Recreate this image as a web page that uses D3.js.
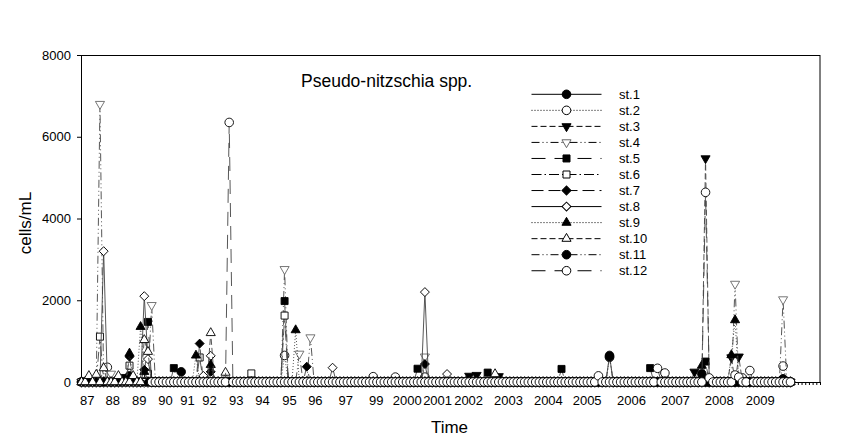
<!DOCTYPE html>
<html><head><meta charset="utf-8">
<script src="https://cdn.jsdelivr.net/npm/d3@7"></script>
<style>body{margin:0;background:#fff}svg{display:block;font-family:"Liberation Sans",Arial,sans-serif}</style>
</head><body><svg id="c" width="852" height="441"></svg>
<script>
// ---------- data ----------
const nSamples = 193;              // sampling occasions along the time axis
const stationNames = ["st.1","st.2","st.3","st.4","st.5","st.6","st.7","st.8","st.9","st.10","st.11","st.12"];
const yTicks = [0, 2000, 4000, 6000, 8000];
const xTickLabels = ["87","88","89","90","91","92","93","94","95","96","97","99","2000","2001","2002","2003","2004","2005","2006","2007","2008","2009"];
const xTickPos    = [1.4, 8.3, 15.5, 22.6, 28.6, 34.5, 41.8, 48.9, 56.2, 63.2, 71.4, 79.7, 88.1, 96.3, 104.7, 115.5, 126.3, 136.8, 148.8, 160.7, 172.6, 183.7];
// first sampling occasion of each station
const startIdx = [0,0,0,0,0,0,0,0,0,0,19,19];
// readings above zero: [sample index, cells/mL]; every other sample reads 0 on the chart
const st1  = [[13,150],[27,250],[143,650]];
const st2  = [[7,360],[55,650],[79,130],[85,120],[93,120],[143,600],[158,220],[179,100],[190,390]];
const st3  = [[12,120],[105,150],[107,170],[113,140],[166,250],[169,5470],[176,600],[178,620]];
const st4  = [[5,6800],[8,200],[19,1880],[55,2760],[59,690],[62,1090],[93,620],[177,2400],[190,2020]];
const st5  = [[18,1470],[25,340],[55,1980],[91,325],[110,230],[130,320],[154,340],[169,500]];
const st6  = [[5,1110],[13,400],[18,200],[32,600],[46,210],[55,1625]];
const st7  = [[13,620],[17,300],[32,940],[35,250],[61,375],[93,440]];
const st8  = [[6,3200],[17,2100],[18,560],[33,150],[35,640],[68,350],[93,2200],[99,195]];
const st9  = [[13,700],[16,1350],[17,250],[31,650],[35,420],[58,1270],[168,400],[176,660],[177,1515]];
const st10 = [[2,150],[4,180],[6,340],[10,150],[14,150],[17,1030],[18,740],[35,1200],[39,230],[112,195]];
const st11 = [[143,620],[168,200],[190,80]];
const st12 = [[40,6350],[140,150],[156,335],[169,4640],[170,100],[177,170],[178,120],[181,280]];
const readings = [st1,st2,st3,st4,st5,st6,st7,st8,st9,st10,st11,st12];

// ---------- styles ----------
const dashes = [null,"1,2","6,3","8,3,1,3,1,3","14,9","10,3,1.5,3","12,5",null,"1,2","6,3","8,3,1,3,1,3","14,9"];
const shapes = ["circle","circle","tridown","tridown","square","square","diamond","diamond","triup","triup","circle","circle"];
const filled = [true,false,true,false,true,false,true,false,true,false,true,false];
const markStroke = ["#000","#000","#000","#666","#000","#000","#000","#000","#000","#000","#000","#000"];

const svg = d3.select("#c");
const x = d3.scaleLinear().domain([0, 200]).range([81.5, 820]);
const y = d3.scaleLinear().domain([0, 8000]).range([382, 55]);

function symbolPath(kind){
  if (kind==="circle") return d3.symbol(d3.symbolCircle, 58)();
  if (kind==="square") return d3.symbol(d3.symbolSquare, 49)();
  if (kind==="diamond") return d3.symbol(d3.symbolSquare, 40)();
  return d3.symbol(d3.symbolTriangle, 36)();
}
function symbolRot(kind){
  if (kind==="diamond") return 45;
  if (kind==="tridown") return 180;
  return 0;
}

// build series
const series = readings.map((r, s) => {
  const m = new Map(r);
  const pts = [];
  for (let i = startIdx[s]; i < nSamples; i++) pts.push({i, v: m.has(i) ? m.get(i) : 0});
  return pts;
});

// frame (under the data)
svg.append("rect").attr("x",81.5).attr("y",55.5).attr("width",738.5).attr("height",327)
  .attr("fill","none").attr("stroke","#000").attr("stroke-width",1);

// axes
const xMinor = d3.axisBottom(x).tickValues(d3.range(0, 201)).tickSize(3).tickFormat("");
svg.append("g").attr("transform","translate(0,382)").call(xMinor)
  .call(g=>g.select(".domain").remove())
  .selectAll("line").attr("stroke","#000");
const xLab = d3.axisBottom(x).tickValues(xTickPos).tickSize(0).tickPadding(13.5)
  .tickFormat((d,i)=>xTickLabels[i]);
svg.append("g").attr("transform","translate(0,382)").call(xLab)
  .call(g=>g.select(".domain").remove())
  .selectAll("text").attr("font-size",13).attr("font-family","Liberation Sans, Arial, sans-serif").attr("fill","#000");
const yAx = d3.axisLeft(y).tickValues(yTicks).tickSize(4).tickPadding(6).tickFormat(d3.format("d"));
svg.append("g").attr("transform","translate(81,0)").call(yAx)
  .call(g=>g.select(".domain").remove())
  .call(g=>g.selectAll("line").attr("stroke","#000"))
  .selectAll("text").attr("font-size",13).attr("font-family","Liberation Sans, Arial, sans-serif").attr("fill","#000");

// series
const line = d3.line().x(d=>x(d.i)).y(d=>y(d.v));
series.forEach((pts, s) => {
  const g = svg.append("g");
  g.append("path").attr("d", line(pts)).attr("fill","none")
    .attr("stroke","#444").attr("stroke-width",0.9)
    .attr("stroke-dasharray", dashes[s]);
  const p = symbolPath(shapes[s]), rot = symbolRot(shapes[s]);
  g.selectAll("path.m").data(pts).join("path").attr("class","m")
    .attr("d", p)
    .attr("transform", d=>`translate(${x(d.i)},${y(d.v)}) rotate(${rot})`)
    .attr("fill", filled[s] ? "#000" : "#fff")
    .attr("stroke", markStroke[s]).attr("stroke-width",0.9);
});

// legend
stationNames.forEach((nm, k) => {
  const ly = 94.3 + 16.04*k;
  const g = svg.append("g");
  g.append("line").attr("x1",531.5).attr("x2",601.5).attr("y1",ly).attr("y2",ly)
    .attr("stroke","#000").attr("stroke-width",1).attr("stroke-dasharray", dashes[k]);
  g.append("path").attr("d", symbolPath(shapes[k]))
    .attr("transform",`translate(566.5,${ly}) rotate(${symbolRot(shapes[k])})`)
    .attr("fill", filled[k] ? "#000" : "#fff").attr("stroke", markStroke[k]).attr("stroke-width",1);
  g.append("text").attr("x",619).attr("y",ly+4.7).attr("font-size",13).attr("fill","#000").text(nm);
});

// titles
svg.append("text").attr("x",301).attr("y",87).attr("font-size",17.5).attr("fill","#000").text("Pseudo-nitzschia spp.");
svg.append("text").attr("x",449.5).attr("y",433).attr("text-anchor","middle").attr("font-size",17).attr("fill","#000").text("Time");
svg.append("text").attr("transform","translate(31,223) rotate(-90)").attr("text-anchor","middle")
  .attr("font-size",17).attr("fill","#000").text("cells/mL");
</script></body></html>
